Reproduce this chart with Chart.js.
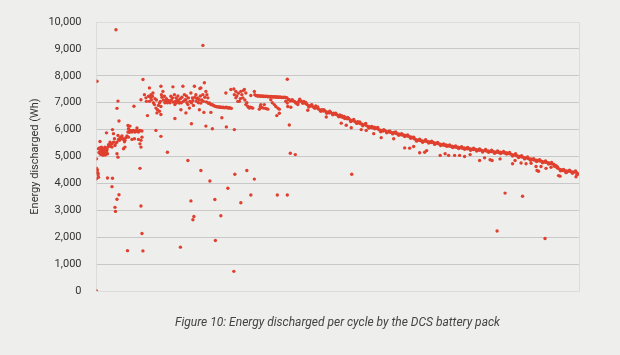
<!DOCTYPE html>
<html>
<head>
<meta charset="utf-8">
<script src="https://cdn.jsdelivr.net/npm/chart.js@4"></script>
<style>
html,body{margin:0;padding:0;background:#eeeeec;}
#wrap{position:relative;width:620px;height:355px;overflow:hidden;background:#eeeeec;}
#caption{position:absolute;left:96px;width:483px;top:315px;text-align:center;font-family:Roboto,sans-serif;font-style:italic;font-size:12px;color:#444;}
</style>
</head>
<body>
<div id="wrap">
<canvas id="c" width="620" height="355"></canvas>
<div id="caption">Figure 10: Energy discharged per cycle by the DCS battery pack</div>
</div>
<script>
// Y axis ticks (Wh)
const yTicks = [0,1000,2000,3000,4000,5000,6000,7000,8000,9000,10000];
const yTitle = "Energy discharged (Wh)";

// Early cycles: ramp-up phase
const earlyCycles = [0,0,1,2,3,3,4,4,7,8,9,9,10,11,12,13,14,14,15,16,17,17,18,19,20,21,22,20,24,26,27,29,31,31,32,34,34,36,37,39,41,41,43,43,44,46,47,49,51,52,54,54,56,57,57,59,61,63,64,64,66,67,67,69,71,71,72,74,76,76,77,79,81,81,82,84,84,86,87,87,89,89,91,91,5,6,8,11,13,16,19,23,25,28];
const earlyWh = [4913,4565,4415,4500,4315,4380,4230,5286,5560,5200,5286,5100,5350,5160,5225,5050,5286,5060,5180,5140,5225,5350,5060,5120,5190,5250,5100,5880,5440,5400,5535,5480,5470,5350,6000,5535,5850,5660,5410,5500,5535,5100,4975,5784,5635,5600,5690,5720,5760,5650,5660,5286,5550,5600,5350,5700,5760,5910,6035,5720,5900,5970,6130,5950,5910,5635,5960,5970,5660,5940,5910,5950,5970,6060,5930,5910,5635,5950,5970,5470,5350,5600,5720,5950,5150,5320,5080,5250,5130,5200,5300,5350,5420,5380];

// Plateau phase
const plateauCycles = [89,93,96,99,100,102,104,106,106,108,109,110,112,113,114,116,117,119,120,121,122,124,126,126,128,129,129,129,130,131,133,134,136,137,139,140,142,144,146,147,149,150,152,153,154,156,157,158,159,160,162,163,165,166,168,169,170,171,173,174,176,177,179,179,180,181,183,184,186,187,189,190,192,193,194,196,197,199,200,201,203,204,206,206,207,208,209,209,211,213,214,215,216,217,219,220,221,223,224,226,228,229,230,232,234,236,239,241,244,246,248,250,252,254,256,258,260,262,264,266,268,270,259,269,275,276,279,279,281,283,284,286,288,289,291,293,294,296,297,299,299,301,303,305,306,308,309,311,313,316,317,319,321,323,325,327,329,331,333,335,337,339,341,343,345,347,349,351,353,355,357,359,361,363,365,367,369,371,373,375,377,379,381,326,328,329,331,334,336,338,340,343,349,352,356,359,361,363,366,366,379,382,383,384,386,388,389,390,392,394,396,398,399,401,403,404];
const plateauWh = [7110,7860,7300,7180,7050,6520,7240,7550,7050,7200,7300,7110,7240,7360,7000,6930,7150,6800,7100,6620,6740,6900,6680,6990,7050,6860,7610,6560,7300,7200,7420,7100,7240,7000,7050,7150,7000,7080,7050,7000,7240,7100,7180,7590,7020,7300,6930,7050,7180,7000,7110,7250,7050,6990,7150,6740,7000,7200,7610,7050,7300,7100,7110,6620,7250,7000,6930,7180,6800,7050,7360,7000,7180,7080,6900,7610,7200,7300,7050,7150,7180,7000,7110,6740,7530,7250,7550,6990,7100,7300,7050,6640,7740,7200,7420,7030,7300,7180,6980,6990,6950,6640,6920,6930,6900,6880,6860,6850,6840,6840,6830,6830,6820,6830,6810,6820,6830,6810,6800,6810,6800,6790,7360,7490,7510,7300,7180,7420,7250,7050,7350,7050,7150,7420,7300,7180,7450,7490,7100,7360,6930,7000,6860,6820,6800,6830,7270,6810,6800,7420,7300,7270,7260,7250,7260,7240,7250,7240,7250,7230,7240,7230,7240,7220,7230,7220,7230,7220,7210,7220,7210,7220,7200,7210,7200,7210,7200,7190,7200,7190,7200,7180,7190,6760,6860,6930,6820,6800,6930,6790,6780,6760,7110,7000,6930,6860,6520,6800,6760,6610,7050,6990,6860,7120,7110,7060,6830,7080,7110,7060,7050,7020,6990,7000,6930,7010];

// Decline phase: main trend
const declineCycles = [406,409,412,415,418,421,424,427,430,433,436,439,442,445,448,451,454,457,460,463,466,469,472,475,478,481,484,487,490,493,496,499,502,505,508,511,514,517,520,523,526,529,532,535,538,541,544,547,550,553,556,559,562,565,568,571,574,577,580,583,586,589,592,595,598,601,604,607,610,613,616,619,622,625,628,631,634,637,640,643,646,649,652,655,658,661,664,667,670,673,676,679,682,685,688,691,694,697,700,703,706,709,712,715,718,721,724,727,730,733,736,739,742,745,748,751,754,757,760,763,766,769,772,775,778,781,784,787,790,793,796,799,802,805,808,811,814,817,820,823,826,829,832,835,838,841,844,847,850,853,856,859,862,865,868,871,874,877,880,883,886,889,892,895,898,901,904,907,910,913,916,919,922,925,928,931,934,937,940,943,946,949,952,955,958,961,964];
const declineWh = [7090,7060,7020,7050,6980,6940,6900,6870,6910,6850,6830,6880,6800,6760,6720,6740,6690,6700,6660,6650,6620,6640,6590,6610,6570,6550,6520,6540,6480,6460,6490,6430,6400,6410,6360,6330,6340,6300,6270,6290,6240,6220,6200,6180,6190,6140,6120,6100,6080,6070,6090,6060,6040,6000,5980,5960,5950,5970,5930,5920,5910,5900,5880,5890,5870,5850,5840,5830,5810,5800,5790,5780,5760,5750,5730,5720,5690,5650,5620,5610,5600,5590,5580,5570,5580,5560,5550,5540,5520,5530,5500,5490,5480,5470,5460,5440,5430,5420,5430,5400,5390,5380,5380,5360,5350,5340,5350,5330,5320,5310,5320,5300,5290,5300,5280,5270,5260,5270,5250,5240,5230,5240,5220,5210,5220,5200,5210,5190,5180,5190,5170,5160,5170,5150,5160,5140,5150,5130,5140,5120,5110,5090,5070,5050,5060,5030,5010,5000,4990,4980,4960,4950,4940,4920,4910,4900,4880,4870,4860,4850,4840,4830,4820,4800,4790,4780,4770,4750,4740,4720,4700,4650,4580,4550,4520,4500,4480,4470,4460,4450,4460,4440,4430,4420,4430,4410,4350];

// Decline phase: scatter around the trend
const spreadCycles = [407,413,419,425,431,437,443,449,455,461,467,473,479,485,491,497,503,509,515,521,527,533,539,545,551,557,563,569,575,581,587,593,599,605,611,617,623,629,635,641,647,653,659,665,671,677,683,689,695,701,707,713,719,725,731,737,743,749,755,761,767,773,779,785,791,797,803,809,815,821,827,833,839,845,851,857,863,869,875,881,887,893,899,905,911,917,923,929,935,941,947,953,959,962];
const spreadWh = [7130,6980,7010,6840,6930,6790,6840,6680,6740,6610,6680,6550,6610,6480,6520,6410,6450,6300,6380,6230,6280,6140,6230,6060,6120,6030,6080,5920,6000,5880,5950,5840,5910,5790,5850,5740,5800,5680,5720,5570,5640,5530,5620,5500,5570,5450,5520,5410,5470,5380,5430,5330,5390,5300,5360,5270,5340,5230,5310,5200,5280,5170,5260,5160,5230,5120,5210,5110,5190,5090,5150,5020,5100,4960,5030,4910,4980,4860,4920,4810,4880,4770,4830,4720,4780,4640,4610,4470,4520,4410,4490,4380,4460,4340];

// Decline phase: readings below the trend
const dipCycles = [423,460,490,500,510,530,540,555,570,595,617,627,635,647,657,661,688,698,705,717,727,737,748,767,777,788,792,808,833,838,850,860,870,880,882,885,890,900,910,920,925,928,940,960];
const dipWh = [6720,6470,6240,6160,6070,6000,5970,5850,5700,5660,5320,5310,5370,5140,5160,5220,5040,5100,5040,5040,5040,5000,5070,4850,4950,4880,4850,4910,4730,4850,4760,4730,4750,4630,4480,4450,4630,4560,4600,4660,4290,4270,4400,4250];

// Isolated outliers
const outlierCycles = [0,1,0,22,32,31,45,41,37,38,62,89,91,93,39,43,41,45,63,75,87,168,189,193,195,209,227,237,238,249,263,277,275,301,289,309,316,362,382,213,183,142,129,119,157,190,219,232,251,260,276,382,386,388,398,511,818,853,802,898];
const outlierWh = [0,7800,4170,4200,4190,3880,3580,3410,3110,2960,1500,3160,2140,1490,9710,7060,6790,6320,6150,6870,4560,1630,3350,2650,2770,4480,4090,3400,1880,2800,3820,4340,730,4480,3280,3570,4160,3570,3570,9130,4850,5160,5750,5970,6410,6220,6130,6030,6440,6100,6000,7870,6170,5120,5070,4340,3640,3520,2230,1950];

const red = '#e0402f';
function pts(xs, ys){ return xs.map((x,i)=>({x:x, y:ys[i]})); }
function ds(xs, ys){
  return {data: pts(xs, ys), backgroundColor: red, borderColor: red, pointRadius: 1.7, pointBorderWidth: 0, pointHoverRadius: 1.7, showLine:false};
}

new Chart(document.getElementById('c'), {
  type: 'scatter',
  data: {datasets: [
    ds(earlyCycles, earlyWh),
    ds(plateauCycles, plateauWh),
    ds(declineCycles, declineWh),
    ds(spreadCycles, spreadWh),
    ds(dipCycles, dipWh),
    ds(outlierCycles, outlierWh)
  ]},
  options: {
    responsive: false,
    animation: false,
    devicePixelRatio: 1,
    layout: {padding: {left: 0, right: 41, top: 22, bottom: 64}},
    plugins: {legend: {display: false}, tooltip: {enabled: false}, title: {display: false}},
    scales: {
      x: {type: 'linear', min: 0, max: 966, display: false},
      y: {
        type: 'linear', position: 'left', min: yTicks[0], max: yTicks[yTicks.length-1],
        afterBuildTicks: (s) => { s.ticks = yTicks.map(v => ({value: v})); },
        afterFit: (s) => { s.width = 96.5; },
        ticks: {
          padding: 15, color: '#333', font: {family: 'Roboto', size: 11},
          callback: (v) => v.toLocaleString('en-US')
        },
        grid: {
          drawTicks: false,
          color: (ctx) => (ctx.tick && (ctx.tick.value === 0 || ctx.tick.value === 10000)) ? '#dcdcdc' : '#c8c8c8',
          lineWidth: 1
        },
        border: {display: true, color: '#dcdcdc', width: 1},
        title: {display: true, text: yTitle, color: '#333', font: {family: 'Roboto', size: 11}, padding: {top: 29, bottom: 0}}
      },
      y2: {
        type: 'linear', position: 'right', min: 0, max: 10000,
        afterFit: (s) => { s.width = 0; },
        ticks: {display: false},
        grid: {drawOnChartArea: false, drawTicks: false},
        border: {display: true, color: '#dcdcdc', width: 1}
      }
    }
  }
});
</script>
</body>
</html>
